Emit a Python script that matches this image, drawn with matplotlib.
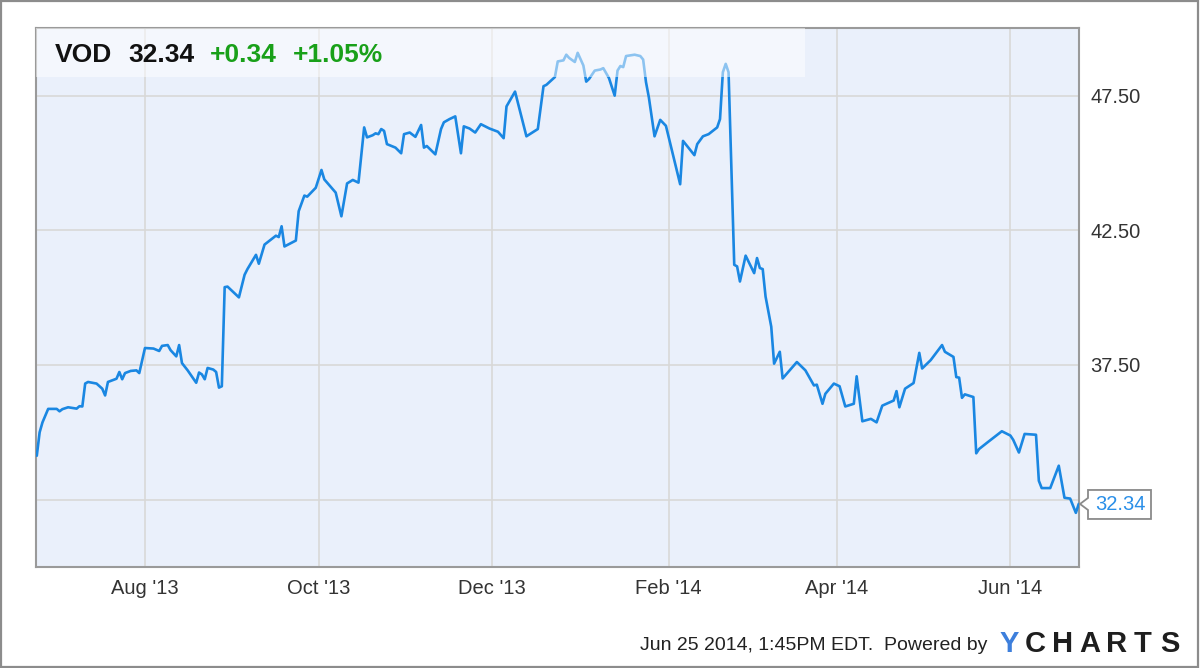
import matplotlib
matplotlib.use('Agg')
import matplotlib.pyplot as plt
import matplotlib.dates as mdates
from matplotlib.patches import Rectangle, Polygon
from matplotlib.transforms import IdentityTransform
import pandas as pd

plt.rcParams['font.family'] = ['Liberation Sans', 'DejaVu Sans']

# ---------------- data ----------------
ticker = "VOD"
last_price = 32.34
change = "+0.34"
change_pct = "+1.05%"
timestamp = "Jun 25 2014, 1:45PM EDT."

dates = [
    "2013-06-24", "2013-06-25", "2013-06-26", "2013-06-28", "2013-07-01", "2013-07-02",
    "2013-07-03", "2013-07-05", "2013-07-08", "2013-07-09", "2013-07-10", "2013-07-11",
    "2013-07-12", "2013-07-15", "2013-07-17", "2013-07-18", "2013-07-19", "2013-07-21",
    "2013-07-22", "2013-07-23", "2013-07-24", "2013-07-25", "2013-07-27", "2013-07-29",
    "2013-07-30", "2013-07-31", "2013-08-01", "2013-08-04", "2013-08-06", "2013-08-07",
    "2013-08-09", "2013-08-10", "2013-08-12", "2013-08-13", "2013-08-14", "2013-08-16",
    "2013-08-19", "2013-08-20", "2013-08-21", "2013-08-22", "2013-08-23", "2013-08-25",
    "2013-08-26", "2013-08-27", "2013-08-28", "2013-08-29", "2013-08-30", "2013-09-03",
    "2013-09-05", "2013-09-06", "2013-09-09", "2013-09-10", "2013-09-12", "2013-09-16",
    "2013-09-17", "2013-09-18", "2013-09-19", "2013-09-23", "2013-09-24", "2013-09-26",
    "2013-09-27", "2013-09-30", "2013-10-02", "2013-10-03", "2013-10-07", "2013-10-09",
    "2013-10-11", "2013-10-13", "2013-10-15", "2013-10-17", "2013-10-18", "2013-10-20",
    "2013-10-21", "2013-10-22", "2013-10-23", "2013-10-24", "2013-10-25", "2013-10-28",
    "2013-10-30", "2013-10-31", "2013-11-02", "2013-11-04", "2013-11-06", "2013-11-07",
    "2013-11-08", "2013-11-11", "2013-11-13", "2013-11-14", "2013-11-16", "2013-11-18",
    "2013-11-20", "2013-11-21", "2013-11-23", "2013-11-25", "2013-11-27", "2013-11-30",
    "2013-12-03", "2013-12-05", "2013-12-06", "2013-12-09", "2013-12-11", "2013-12-13",
    "2013-12-17", "2013-12-19", "2013-12-20", "2013-12-23", "2013-12-24", "2013-12-26",
    "2013-12-27", "2013-12-28", "2013-12-30", "2013-12-31", "2014-01-02", "2014-01-03",
    "2014-01-04", "2014-01-06", "2014-01-08", "2014-01-09", "2014-01-11", "2014-01-13",
    "2014-01-14", "2014-01-15", "2014-01-16", "2014-01-17", "2014-01-20", "2014-01-22",
    "2014-01-23", "2014-01-24", "2014-01-25", "2014-01-27", "2014-01-29", "2014-01-31",
    "2014-02-05", "2014-02-06", "2014-02-10", "2014-02-11", "2014-02-13", "2014-02-15",
    "2014-02-18", "2014-02-19", "2014-02-20", "2014-02-21", "2014-02-22", "2014-02-24",
    "2014-02-25", "2014-02-26", "2014-02-28", "2014-03-03", "2014-03-04", "2014-03-05",
    "2014-03-06", "2014-03-07", "2014-03-09", "2014-03-10", "2014-03-12", "2014-03-13",
    "2014-03-18", "2014-03-21", "2014-03-24", "2014-03-25", "2014-03-27", "2014-03-28",
    "2014-03-31", "2014-04-02", "2014-04-04", "2014-04-07", "2014-04-08", "2014-04-10",
    "2014-04-13", "2014-04-15", "2014-04-17", "2014-04-21", "2014-04-22", "2014-04-23",
    "2014-04-25", "2014-04-28", "2014-04-30", "2014-05-01", "2014-05-04", "2014-05-08",
    "2014-05-09", "2014-05-12", "2014-05-13", "2014-05-14", "2014-05-15", "2014-05-16",
    "2014-05-19", "2014-05-20", "2014-05-21", "2014-05-24", "2014-05-29", "2014-06-01",
    "2014-06-02", "2014-06-04", "2014-06-06", "2014-06-10", "2014-06-11", "2014-06-12",
    "2014-06-15", "2014-06-18", "2014-06-20", "2014-06-22", "2014-06-24", "2014-06-25",
]

prices = [
    34.13, 35.00, 35.37, 35.87, 35.87, 35.78,
    35.86, 35.93, 35.88, 35.97, 35.96, 36.81,
    36.87, 36.81, 36.62, 36.37, 36.87, 36.95,
    36.99, 37.24, 36.97, 37.20, 37.28, 37.30,
    37.20, 37.67, 38.13, 38.11, 38.02, 38.21,
    38.24, 38.05, 37.82, 38.24, 37.57, 37.30,
    36.84, 37.22, 37.15, 36.97, 37.39, 37.33,
    37.24, 36.66, 36.71, 40.39, 40.41, 40.01,
    40.85, 41.06, 41.59, 41.26, 41.97, 42.30,
    42.25, 42.65, 41.90, 42.12, 43.21, 43.79,
    43.75, 44.08, 44.74, 44.39, 43.90, 43.02,
    44.24, 44.37, 44.27, 46.32, 45.95, 46.03,
    46.10, 46.07, 46.26, 46.19, 45.70, 45.57,
    45.36, 46.07, 46.13, 45.97, 46.41, 45.57,
    45.63, 45.32, 46.26, 46.51, 46.63, 46.73,
    45.36, 46.36, 46.28, 46.13, 46.44, 46.28,
    46.16, 45.92, 47.10, 47.65, 46.82, 45.99,
    46.26, 47.85, 47.90, 48.19, 48.77, 48.81,
    49.02, 48.90, 48.75, 49.09, 48.62, 48.02,
    48.12, 48.43, 48.47, 48.52, 48.15, 47.50,
    48.43, 48.60, 48.56, 48.97, 49.02, 48.97,
    48.84, 48.00, 47.44, 45.99, 46.60, 46.38,
    44.21, 45.82, 45.29, 45.70, 45.99, 46.07,
    46.32, 46.63, 48.37, 48.68, 48.37, 41.22,
    41.16, 40.60, 41.56, 40.91, 41.47, 41.10,
    41.06, 40.04, 38.92, 37.55, 37.99, 37.00,
    37.61, 37.30, 36.74, 36.77, 36.06, 36.43,
    36.81, 36.71, 35.96, 36.06, 37.08, 35.41,
    35.50, 35.37, 35.99, 36.18, 36.53, 35.93,
    36.62, 36.83, 37.95, 37.37, 37.68, 38.24,
    37.99, 37.80, 37.05, 37.03, 36.28, 36.41,
    36.31, 34.22, 34.38, 34.63, 35.04, 34.88,
    34.72, 34.25, 34.94, 34.91, 33.20, 32.93,
    32.93, 33.76, 32.57, 32.54, 32.01, 32.34,
]

y_ticks = [32.5, 37.5, 42.5, 47.5]
y_tick_labels = ["", "37.50", "42.50", "47.50"]
x_tick_dates = ["2013-08-01", "2013-10-01", "2013-12-01", "2014-02-01", "2014-04-01", "2014-06-01"]
x_tick_labels = ["Aug '13", "Oct '13", "Dec '13", "Feb '14", "Apr '14", "Jun '14"]

# ---------------- figure ----------------
W, H = 1200, 668
fig = plt.figure(figsize=(W / 100, H / 100), dpi=100)
fig.patch.set_facecolor('white')

ax_l, ax_r, ax_t, ax_b = 35.6, 1079, 28.3, 567
ax = fig.add_axes([ax_l / W, 1 - ax_b / H, (ax_r - ax_l) / W, (ax_b - ax_t) / H])
ax.set_facecolor('#EAF0FB')

line_color = '#1A87E2'
ax.plot(pd.to_datetime(dates), prices, color=line_color, lw=1.9, zorder=3,
        solid_joinstyle='round', solid_capstyle='round')

ax.set_xlim(pd.Timestamp("2013-06-23 14:00"), pd.Timestamp("2014-06-25 02:30"))
ax.set_ylim(30, 50)

ax.set_xticks(pd.to_datetime(x_tick_dates))
ax.set_xticklabels(x_tick_labels)
ax.yaxis.tick_right()
ax.set_yticks(y_ticks)
ax.set_yticklabels(y_tick_labels)

ax.grid(True, color='#D8D8D8', lw=1.2, zorder=1)
ax.set_axisbelow(True)
ax.tick_params(axis='both', length=0, labelsize=14.5, colors='#333333')
ax.tick_params(axis='x', pad=9)
ax.tick_params(axis='y', pad=8)

for s in ax.spines.values():
    s.set_color('#9A9A9A')
    s.set_linewidth(1.5)

# header translucent band
hdr_right = 805
hdr_bottom = 77.3
ax.add_patch(Rectangle((0, (ax_b - hdr_bottom) / (ax_b - ax_t)),
                       (hdr_right - ax_l) / (ax_r - ax_l),
                       1 - (ax_b - hdr_bottom) / (ax_b - ax_t),
                       transform=ax.transAxes, facecolor='white', alpha=0.5,
                       lw=0, zorder=4))

# header text
base_y = 1 - 61.5 / H
fig.text(55 / W, base_y, ticker, fontsize=19, fontweight='bold', color='#111111', va='baseline', zorder=6)
fig.text(128 / W, base_y, f"{last_price:.2f}", fontsize=19, fontweight='bold', color='#111111', va='baseline', zorder=6)
fig.text(210 / W, base_y, change, fontsize=19, fontweight='bold', color='#19A019', va='baseline', zorder=6)
fig.text(293 / W, base_y, change_pct, fontsize=19, fontweight='bold', color='#19A019', va='baseline', zorder=6)

# last-price callout
fig.canvas.draw()
tip = ax.get_yaxis_transform().transform((1.0, last_price))
tx, ty = tip[0] + 1, tip[1]
bl, br, bt, bb, notch = 8, 71, 14, -15, 6
verts = [(tx, ty), (tx + bl, ty + notch), (tx + bl, ty + bt), (tx + br, ty + bt),
         (tx + br, ty + bb), (tx + bl, ty + bb), (tx + bl, ty - notch)]
fig.add_artist(Polygon(verts, closed=True, transform=IdentityTransform(),
                       facecolor='white', edgecolor='#8A8A8A', lw=1.3, zorder=7))
cx, cy = fig.transFigure.inverted().transform((tx + (bl + br) / 2 + 1, ty - 0.5))
fig.text(cx, cy, f"{last_price:.2f}", fontsize=14.5, color='#2A8FE8',
         ha='center', va='center', zorder=8)

# footer
fig.text(640 / W, 1 - 650 / H, timestamp + "  Powered by", fontsize=14, color='#222222',
         va='baseline')
logo = "YCHARTS"
logo_x = [1009.5, 1035.5, 1063, 1089.5, 1116.5, 1142.5, 1169.5]
for ch, xx in zip(logo, logo_x):
    fig.text(xx / W, 1 - 652 / H, ch, fontsize=21, fontweight='bold',
             color='#3D7FDC' if ch == 'Y' else '#1E1E1E', ha='center', va='baseline')

# outer border
fig.add_artist(Rectangle((0.5 / W, 1.5 / H), 1 - 2.5 / W, 1 - 2.5 / H,
                         transform=fig.transFigure, fill=False, edgecolor='#8C8C8C', lw=1.6))

fig.savefig('out.png', dpi=100)
